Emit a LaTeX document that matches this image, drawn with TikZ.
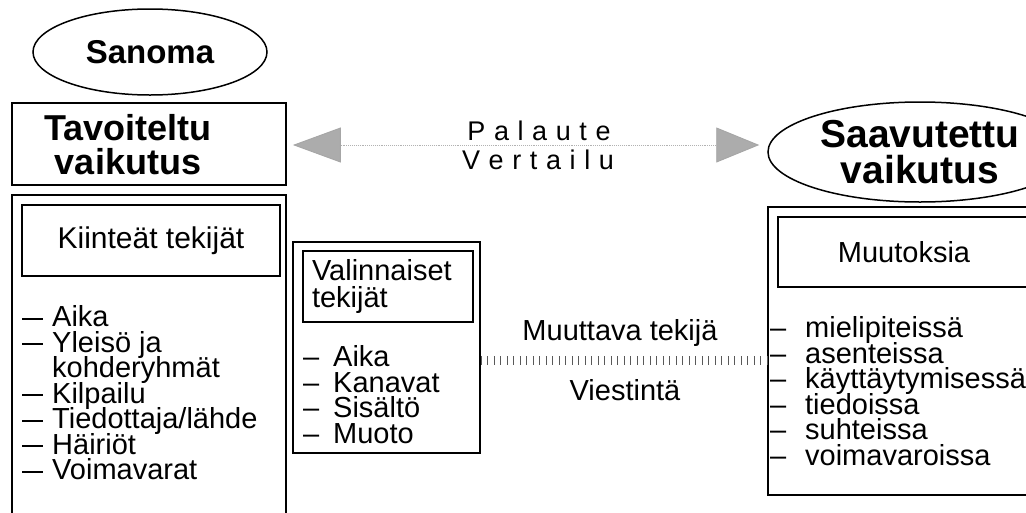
\documentclass[tikz,border=0pt]{standalone}
\usepackage{fontspec}
\setmainfont{Liberation Sans}
\usetikzlibrary{shapes.geometric,arrows.meta}
\newcommand\fsz[1]{\fontsize{#1}{#1}\selectfont}
\newcommand\dd[1]{\makebox[#1][l]{–}}
\newcommand\dl{\makebox[30pt][l]{\rule[7pt]{21pt}{2.4pt}}}
\newcommand\ls{\kern8.6pt}
\begin{document}
\begin{tikzpicture}[x=1pt,y=-1pt,
  frame/.style={line width=1.7pt},
  box/.style={draw, line width=1.7pt, inner sep=0pt},
  oval/.style={ellipse, draw, line width=1.5pt, inner sep=0pt},
  itemlist/.style={font=\fontsize{29}{28.5}\selectfont, anchor=north west, inner sep=0pt, align=left},
  plain/.style={font=\fsz{29}, inner sep=0pt},
  spaced/.style={font=\fsz{27}, inner sep=0pt},
  feedback/.style={densely dotted, gray!60, line width=0.9pt,
    {Triangle[length=48pt,width=35pt,fill=gray!65,color=gray!70]}-{Triangle[length=43pt,width=35pt,fill=gray!65,color=gray!70]}},
  hatch/.style={gray!70!black, line width=9pt, dash pattern=on 1.1pt off 5.4pt}
]
\clip (0,0) rectangle (1026,512);
% left column
\node[oval, minimum width=234pt, minimum height=86pt, font=\fsz{33}\bfseries] (sanoma) at (150,52) {Sanoma};
\node[box, minimum width=274pt, minimum height=82pt] (tav) at (149,144) {};
\node[inner sep=0pt, align=center, font=\fontsize{36}{34}\selectfont\bfseries] (tavtxt) at (128,145) {Tavoiteltu\\vaikutus};
\draw[frame] (12,520) -- (12,195) -- (286,195) -- (286,520);
\node[box, minimum width=258pt, minimum height=71pt, font=\fsz{30}] (kiint) at (151,240.5) {Kiinteät tekijät};
\node[itemlist] (llist) at (22,305.7) {\dl Aika\\[-3pt]\dl Yleisö ja\\[-3pt]\hspace*{30pt}kohderyhmät\\[-3pt]\dl Kilpailu\\[-3pt]\dl Tiedottaja/lähde\\[-3pt]\dl Häiriöt\\[-3pt]\dl Voimavarat};
% middle column
\node[box, minimum width=187pt, minimum height=211pt] (mid) at (386.5,347.5) {};
\node[box, minimum width=170pt, minimum height=71pt, text width=152pt, align=left, font=\fontsize{29}{27}\selectfont] (valin) at (388,286.5) {Valinnaiset\\tekijät};
\node[itemlist] (mlist) at (303,345.7) {\dd{30pt}Aika\\[-3pt]\dd{30pt}Kanavat\\[-3pt]\dd{30pt}Sisältö\\[-3pt]\dd{30pt}Muoto};
% right column
\node[oval, minimum width=304pt, minimum height=100pt, align=center, font=\fontsize{39}{36}\selectfont\bfseries] (saav) at (920,152) {Saavutettu\\vaikutus};
\node[box, minimum width=272pt, minimum height=288pt] (rbox) at (904,351) {};
\node[box, minimum width=252pt, minimum height=70pt, font=\fsz{29}] (muutoksia) at (904,252) {Muutoksia};
\node[itemlist] (rlist) at (770,316.7) {\dd{35pt}mielipiteissä\\[-3pt]\dd{35pt}asenteissa\\[-3pt]\dd{35pt}käyttäytymisessä\\[-3pt]\dd{35pt}tiedoissa\\[-3pt]\dd{35pt}suhteissa\\[-3pt]\dd{35pt}voimavaroissa};
% feedback connector
\draw[feedback, shorten <=6pt, shorten >=8pt] (tav.east |- 0,145) -- (saav.west |- 0,145);
\node[spaced] (palaute) at (539,131) {P\ls a\ls l\ls a\ls u\ls t\ls e};
\node[spaced] (vertailu) at (538,160) {V\ls e\ls r\ls t\ls a\ls i\ls l\ls u};
% middle connector
\draw[hatch] (mid.east |- 0,360) -- (rbox.west |- 0,360);
\node[plain] (muuttava) at (620,333) {Muuttava tekijä};
\node[plain] (viestinta) at (625,390) {Viestintä};
\end{tikzpicture}
\end{document}
